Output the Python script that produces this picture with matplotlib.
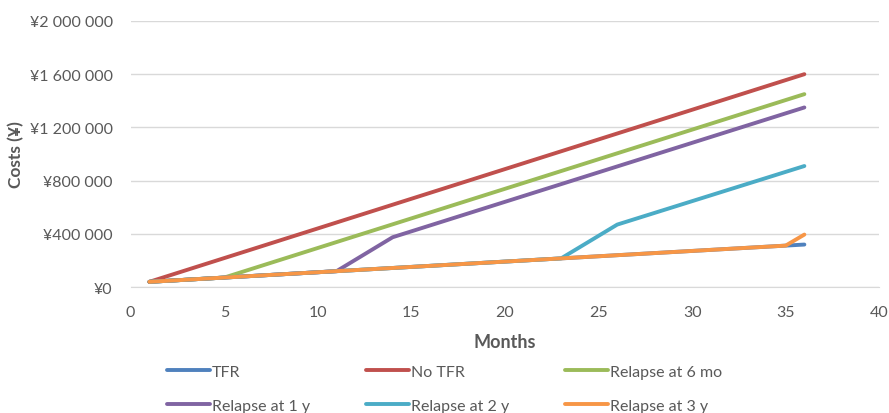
import matplotlib.pyplot as plt
import matplotlib.ticker as mticker

plt.rcParams['font.family'] = ['Lato', 'DejaVu Sans']

# ── Data (breakpoints) ──────────────────────────────────────────────
tfr_x = [1, 36]
tfr_y = [40000, 320000]
notfr_x = [1, 36]
notfr_y = [40000, 1600000]
rel6m_x = [1, 5, 36]
rel6m_y = [40000, 72000, 1450000]
rel1y_x = [1, 11, 14, 36]
rel1y_y = [40000, 120000, 375000, 1350000]
rel2y_x = [1, 23, 26, 36]
rel2y_y = [40000, 216000, 470000, 910000]
rel3y_x = [1, 35, 36]
rel3y_y = [40000, 312000, 395000]

series = [
    ('TFR', tfr_x, tfr_y, '#4F81BD'),
    ('No TFR', notfr_x, notfr_y, '#C0504D'),
    ('Relapse at 6 mo', rel6m_x, rel6m_y, '#9BBB59'),
    ('Relapse at 1 y', rel1y_x, rel1y_y, '#8064A2'),
    ('Relapse at 2 y', rel2y_x, rel2y_y, '#4BACC6'),
    ('Relapse at 3 y', rel3y_x, rel3y_y, '#F79646'),
]

TXT = '#595959'

fig = plt.figure(figsize=(8.89, 4.14), dpi=100)
ax = fig.add_axes([0.147, 0.304, 0.842, 0.643])

handles = {}
for name, x, y, c in series:
    ln, = ax.plot(x, y, color=c, lw=2.8, solid_capstyle='round',
                  solid_joinstyle='round', label=name)
    handles[name] = ln

ax.set_xlim(0, 40)
ax.set_ylim(0, 2000000)
ax.set_xticks(range(0, 41, 5))
ax.set_yticks(range(0, 2000001, 400000))
ax.yaxis.set_major_formatter(mticker.FuncFormatter(
    lambda v, _: '¥' + f'{v:,.0f}'.replace(',', ' ')))
ax.grid(axis='y', color='#D9D9D9', lw=1)
ax.set_axisbelow(True)
for s in ['top', 'right', 'left']:
    ax.spines[s].set_visible(False)
ax.spines['bottom'].set_color('#D9D9D9')
ax.tick_params(length=0, labelsize=11.5, labelcolor=TXT)
ax.tick_params(axis='x', pad=13)
ax.tick_params(axis='y', pad=13)

ax.set_xlabel('Months', fontsize=13, fontweight='bold', color=TXT, labelpad=10)
ax.set_ylabel('Costs (¥)', fontsize=12.5, fontweight='bold', color=TXT, labelpad=4)

order = ['TFR', 'Relapse at 1 y', 'No TFR', 'Relapse at 2 y',
         'Relapse at 6 mo', 'Relapse at 3 y']
leg = fig.legend([handles[k] for k in order], order, ncol=3,
                 loc='upper left', bbox_to_anchor=(0.181, 0.132),
                 frameon=False, fontsize=11.5, handlelength=2.7,
                 handletextpad=0.1, columnspacing=3.5, labelspacing=1.25,
                 borderaxespad=0)
for t in leg.get_texts():
    t.set_color(TXT)

fig.savefig('out.png', dpi=100)
